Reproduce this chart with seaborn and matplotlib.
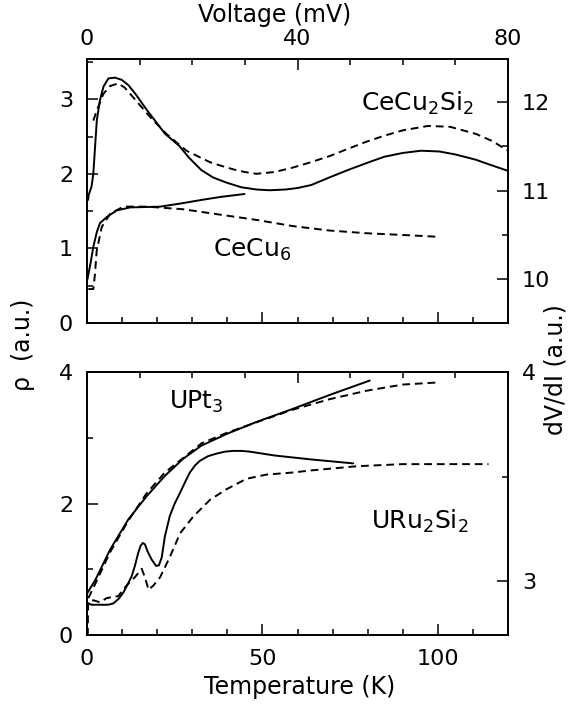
"""
heavy fermion resistivity and point-contact dV/dI, two stacked panels
"""
import seaborn as sns
import matplotlib.pyplot as plt
from matplotlib.ticker import MultipleLocator

sns.set_style("ticks")
plt.rcParams["font.family"] = ["DejaVu Sans"]
plt.rcParams["mathtext.default"] = "regular"
plt.rcParams["text.color"] = "k"
plt.rcParams["axes.labelcolor"] = "k"

# ---- top panel: CeCu2Si2 and CeCu6 ----
cecu2si2_T   = [0.3, 0.5, 1.3, 1.8, 2.3, 2.8, 3.7, 4.7, 6.1, 8.0, 9.9, 11.8, 14.0, 17.0, 22.2,
                26.4, 29.0, 32.6, 36.0, 39.9, 44.0, 48.3, 52.0, 56.6, 60.0, 63.9, 69.0, 74.3,
                80.0, 84.8, 90.0, 95.2, 100.4, 105.0, 110.8, 115.0, 120]
cecu2si2_rho = [1.65, 1.72, 1.83, 2.0, 2.36, 2.72, 2.99, 3.17, 3.28, 3.29, 3.26, 3.19, 3.06, 2.86, 2.54,
                2.37, 2.22, 2.05, 1.95, 1.88, 1.82, 1.79, 1.78, 1.79, 1.81, 1.85, 1.95, 2.05,
                2.15, 2.23, 2.28, 2.31, 2.30, 2.26, 2.19, 2.12, 2.04]
cecu2si2_V    = [1.2, 1.84, 3.1, 4.37, 5.95, 7.2, 9.4, 12.0, 15.1, 18.9, 23.4, 25.5, 27.8, 30.0,
                 32.2, 35.6, 39.1, 42.5, 46.1, 49.5, 53.0, 56.5, 60.0, 64.8, 69.0, 73.9, 77.0, 80]
cecu2si2_dvdi = [11.79, 11.90, 12.09, 12.18, 12.21, 12.16, 12.01, 11.83, 11.64, 11.45, 11.32,
                 11.28, 11.24, 11.21, 11.19, 11.21, 11.26, 11.32, 11.39, 11.47, 11.55, 11.62,
                 11.68, 11.73, 11.72, 11.64, 11.56, 11.45]

cecu6_T   = [0.1, 1.0, 1.8, 2.8, 3.7, 5.6, 8.5, 12.3, 20.8, 26.4, 32.6, 38.0, 44.9]
cecu6_rho = [0.58, 0.80, 1.02, 1.22, 1.34, 1.42, 1.51, 1.55, 1.56, 1.60, 1.65, 1.69, 1.73]
cecu6_V    = [0.25, 1.2, 1.5, 1.84, 2.8, 4.4, 6.9, 11.3, 18.3, 25.2, 32.2, 39.1, 46.1,
              53.0, 60.0, 66.6]
cecu6_dvdi = [9.89, 9.89, 10.05, 10.32, 10.59, 10.74, 10.82, 10.82, 10.79, 10.73, 10.67,
              10.60, 10.55, 10.52, 10.50, 10.48]

# ---- bottom panel: UPt3 and URu2Si2 ----
upt3_T   = [0.0, 2.4, 6.6, 11.8, 17.0, 22.2, 27.4, 32.6, 39.9, 48.3, 58.7, 69.1, 80.6]
upt3_rho = [0.63, 0.84, 1.30, 1.76, 2.11, 2.42, 2.68, 2.88, 3.06, 3.24, 3.44, 3.65, 3.87]
upt3_V    = [0.25, 1.6, 4.4, 7.85, 11.3, 14.8, 18.3, 21.8, 26.6, 32.2, 39.1, 46.1, 53.0,
             60.0, 66.6]
upt3_dvdi = [2.92, 2.99, 3.14, 3.29, 3.42, 3.52, 3.59, 3.66, 3.71, 3.76, 3.82, 3.87, 3.91,
             3.94, 3.95]

uru2si2_T   = [0.0, 1.3, 3.7, 6.0, 7.5, 9.0, 10.3, 11.5, 12.7, 13.7, 14.6, 15.3, 15.9, 16.5,
               17.2, 18.4, 19.7, 20.5, 21.3, 22.2, 23.6, 25.0, 26.5, 28.0, 29.3, 30.8, 32.2,
               34.5, 37.0, 39.5, 41.7, 44.0, 46.2, 53.5, 63.9, 75.9]
uru2si2_rho = [0.49, 0.46, 0.46, 0.46, 0.48, 0.55, 0.64, 0.76, 0.89, 1.06, 1.25, 1.36, 1.40, 1.38,
               1.28, 1.15, 1.05, 1.06, 1.18, 1.50, 1.81, 2.00, 2.16, 2.33, 2.47, 2.58, 2.65,
               2.72, 2.76, 2.79, 2.80, 2.80, 2.79, 2.73, 2.67, 2.61]
uru2si2_V    = [0.15, 0.2, 1.2, 2.5, 3.7, 5.95, 7.5, 9.1, 10.4, 11.0, 11.7, 12.6, 13.9, 15.8,
                17.7, 20.2, 23.4, 26.5, 30.3, 34.1, 39.1, 42.6, 51.3, 60.0, 66.9, 76.3]
uru2si2_dvdi = [2.74, 2.90, 2.91, 2.90, 2.92, 2.93, 2.98, 3.02, 3.06, 3.02, 2.96, 2.98, 3.02,
                3.12, 3.23, 3.31, 3.39, 3.44, 3.49, 3.51, 3.52, 3.53, 3.55, 3.56, 3.56, 3.56]

LINE = dict(color="k", lw=1.4, sort=False, estimator=None, errorbar=None)
DASH = dict(LINE, linestyle=(0, (4, 2.5)))
TICKS = dict(direction="in", labelsize=16, color="k", labelcolor="k", width=1.1)

W, H = 574, 705
fig = plt.figure(figsize=(W / 100, H / 100), dpi=100)


def make_panel(y0, y1, rho_lim, dvdi_lim):
    rect = [87 / W, 1 - y1 / H, 421 / W, (y1 - y0) / H]
    ax = fig.add_axes(rect)
    ax2 = fig.add_axes(rect, frameon=False)
    ax2.xaxis.tick_top()
    ax2.yaxis.tick_right()
    ax.set_xlim(0, 120)
    ax2.set_xlim(0, 80)
    ax.set_ylim(*rho_lim)
    ax2.set_ylim(*dvdi_lim)
    ax.xaxis.set_major_locator(MultipleLocator(50))
    ax.xaxis.set_minor_locator(MultipleLocator(10))
    ax2.xaxis.set_major_locator(MultipleLocator(40))
    ax2.xaxis.set_minor_locator(MultipleLocator(10))
    ax2.yaxis.set_major_locator(MultipleLocator(1))
    ax2.yaxis.set_minor_locator(MultipleLocator(0.5))
    for a in (ax, ax2):
        a.tick_params(which="major", length=8, pad=10, **TICKS)
        a.tick_params(which="minor", length=4, **TICKS)
    ax2.tick_params(axis="x", which="major", pad=7)
    for s in ax.spines.values():
        s.set_linewidth(1.4)
        s.set_color("k")
    return ax, ax2


ax_top, ax_top_v = make_panel(59, 323, (0, 3.54), (9.507, 12.485))
ax_top.yaxis.set_major_locator(MultipleLocator(1))
ax_top.yaxis.set_minor_locator(MultipleLocator(0.5))
ax_top.tick_params(axis="x", labelbottom=False)

ax_bot, ax_bot_v = make_panel(372, 635, (0, 4), (2.744, 4))
ax_bot.yaxis.set_major_locator(MultipleLocator(2))
ax_bot.yaxis.set_minor_locator(MultipleLocator(1))
ax_bot_v.tick_params(axis="x", labeltop=False)

sns.lineplot(x=cecu2si2_T, y=cecu2si2_rho, ax=ax_top, **LINE)
sns.lineplot(x=cecu6_T, y=cecu6_rho, ax=ax_top, **LINE)
sns.lineplot(x=cecu2si2_V, y=cecu2si2_dvdi, ax=ax_top_v, **DASH)
sns.lineplot(x=cecu6_V, y=cecu6_dvdi, ax=ax_top_v, **DASH)

sns.lineplot(x=upt3_T, y=upt3_rho, ax=ax_bot, **LINE)
sns.lineplot(x=uru2si2_T, y=uru2si2_rho, ax=ax_bot, **LINE)
sns.lineplot(x=upt3_V, y=upt3_dvdi, ax=ax_bot_v, **DASH)
sns.lineplot(x=uru2si2_V, y=uru2si2_dvdi, ax=ax_bot_v, **DASH)

ANNOT = dict(fontsize=18, ha="left", va="center")
ax_top.text(78, 2.95, r"CeCu$_2$Si$_2$", **ANNOT)
ax_top.text(36, 0.98, r"CeCu$_6$", **ANNOT)
ax_bot.text(23.4, 3.54, r"UPt$_3$", **ANNOT)
ax_bot.text(81, 1.73, r"URu$_2$Si$_2$", **ANNOT)

for a in (ax_top, ax_top_v, ax_bot, ax_bot_v):
    a.set_xlabel("")
    a.set_ylabel("")

fig.text(275 / W, 1 - 15 / H, "Voltage (mV)", fontsize=17, ha="center", va="center")
fig.text(300 / W, 1 - 687 / H, "Temperature (K)", fontsize=17, ha="center", va="center")
fig.text(23 / W, 1 - 345 / H, "ρ  (a.u.)", fontsize=17, rotation=90, ha="center", va="center")
fig.text(555 / W, 1 - 370 / H, "dV/dI (a.u.)", fontsize=17, rotation=90, ha="center", va="center")

plt.savefig("out.png", dpi=100)
plt.close()
